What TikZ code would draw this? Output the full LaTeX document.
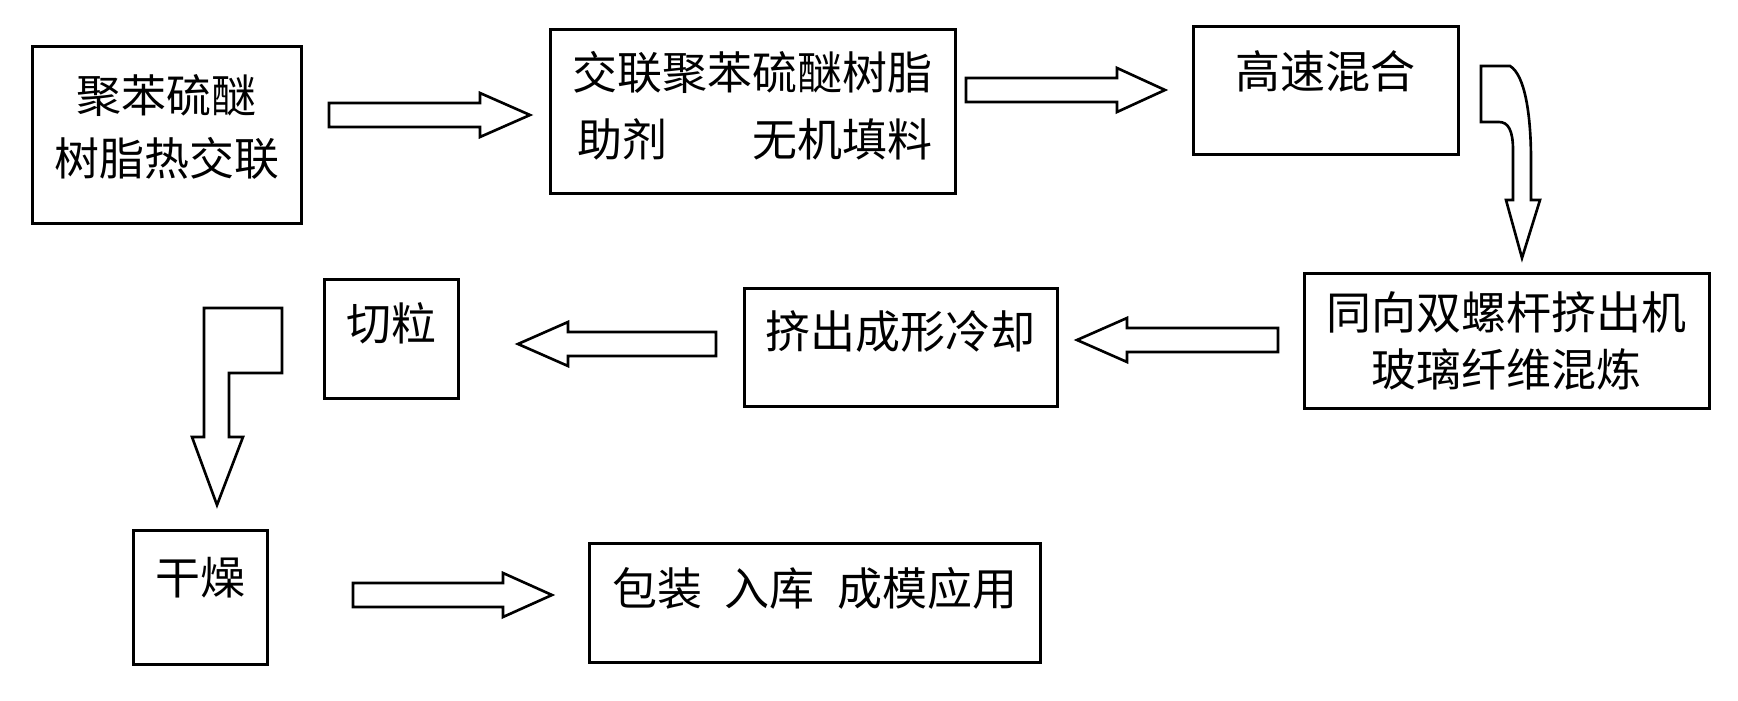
\documentclass[tikz,border=0pt]{standalone}
\usepackage{fontspec}
\newfontfamily\cjk{Noto Sans CJK SC}
\begin{document}
\begin{tikzpicture}[x=0.02cm, y=-0.02cm,
    box/.style={draw, line width=1.5pt, inner sep=0pt, anchor=north west,
      font=\cjk\fontsize{25.6}{32.4}\selectfont},
    fat/.style={draw, line width=1.5pt, line join=miter}]
  \useasboundingbox (0,0) rectangle (1738,700);

  % first row
  \node (1) [box, minimum width=5.38cm, minimum height=3.54cm, align=center, text depth=0.38cm] at (31,45) {聚苯硫醚\\[0.12cm]树脂热交联};
  \node (2) [box, minimum width=8.1cm, minimum height=3.28cm, align=right, text depth=0.3cm] at (549,28) {交联聚苯硫醚树脂\\[0.2cm]助剂\hspace{1.9em}无机填料};
  \node (3) [box, minimum width=5.3cm, text height=1.24cm, text depth=1.32cm] at (1192,25) {高速混合};

  % second row
  \node (4) [box, minimum width=8.1cm, minimum height=2.7cm, align=center] at (1303,272) {同向双螺杆挤出机\\玻璃纤维混炼};
  \node (5) [box, minimum width=6.26cm, text height=1.2cm, text depth=1.16cm] at (743,287) {挤出成形冷却};
  \node (6) [box, minimum width=2.68cm, text height=1.22cm, text depth=1.16cm] at (323,278) {切粒};

  % third row
  \node (7) [box, minimum width=2.68cm, text height=1.28cm, text depth=1.4cm] at (132,529) {干燥};
  \node (8) [box, minimum width=9.02cm, text height=1.24cm, text depth=1.14cm] at (588,542) {包装\hspace{0.5em}入库\hspace{0.5em}成模应用};

  % straight block arrows: tail / head base / tip / y
  \foreach \a/\c/\b/\y in {329/480/530/115, 966/1117/1165/90, 1278/1127/1077/340,
                           716/568/518/344, 353/503/552/595} {
    \draw [fat] (\a,\y-12) -- (\c,\y-12) -- (\c,\y-22) -- (\b,\y)
      -- (\c,\y+22) -- (\c,\y+12) -- (\a,\y+12) -- cycle;
  }

  % bent arrow from 3 down to 4
  \draw [fat] (1481,66) -- (1510,66) .. controls (1525,75) and (1531,115) .. (1531,160)
    -- (1531,200) -- (1540,200) -- (1522,258) -- (1506,200) -- (1513,200)
    -- (1513,150) .. controls (1513,130) and (1508,122) .. (1499,122) -- (1481,122) -- cycle;

  % elbow arrow from 6 down to 7
  \draw [fat] (204,308) -- (282,308) -- (282,373) -- (229,373) -- (229,437)
    -- (243,437) -- (217,505) -- (192,437) -- (204,437) -- cycle;
\end{tikzpicture}
\end{document}
